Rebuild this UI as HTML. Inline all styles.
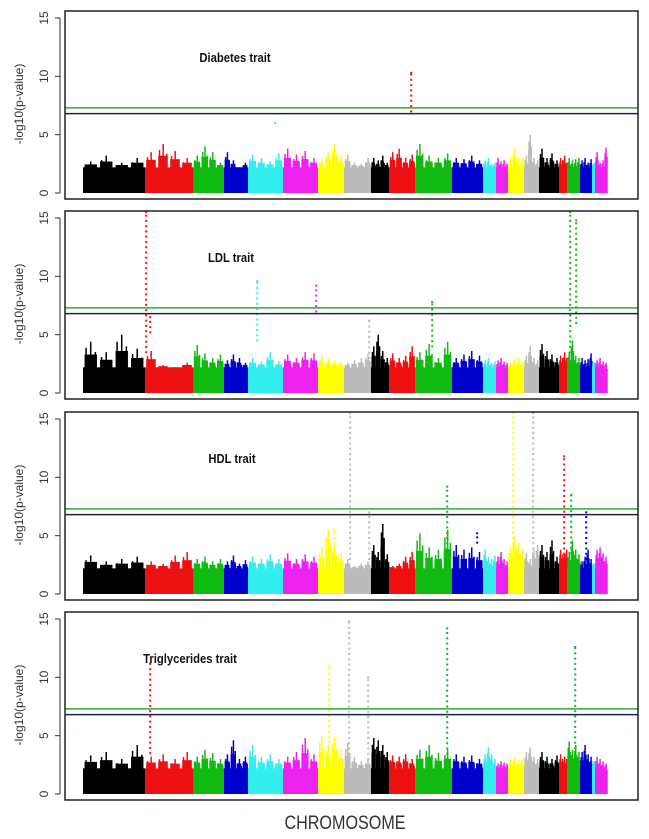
<!DOCTYPE html>
<html><head><meta charset="utf-8"><style>
html,body{margin:0;padding:0;background:#fff;}
svg{display:block;}
</style></head><body>
<svg id="chart" width="649" height="839" xmlns="http://www.w3.org/2000/svg" font-family="Liberation Sans, sans-serif"></svg>
<script>
// ---- data ----
const chromWidths = [62,48,31,24,35,35,26,27,18,26,37,31,13,12,16,15,20,8,13,12,3,12];
const chromColors = ["#000","#ee1111","#11bb11","#0000cc","#33eeee","#ee22ee","#ffff00","#bbbbbb","#000","#ee1111","#11bb11","#0000cc","#33eeee","#ee22ee","#ffff00","#bbbbbb","#000","#ee1111","#11bb11","#0000cc","#33eeee","#ee22ee"];
const traitTitles = ["Diabetes trait","LDL trait","HDL trait","Triglycerides trait"];
const yTicks = [0,5,10,15];
const greenLine = 7.3;
const blackLine = 6.8;
const profileDiabetes = [[2.7,3.2,2.6,3.0],[3.5,4.2,3.6,3.0],[3.2,4.0,3.5,2.6],[3.5,2.8,2.2,2.6],[3.3,3.0,2.7,3.4],[3.8,3.3,3.6,3.0],[3.0,3.5,4.2,3.2],[3.3,2.6,2.5,3.0],[3.0,2.8,3.2,2.6],[3.5,3.8,3.0,3.3],[4.2,3.2,3.0,3.4],[3.0,2.9,3.2,2.8],[2.8,3.0,2.5,2.6],[3.0,2.7,2.8,2.5],[3.0,3.8,3.0,3.0],[3.2,5.0,3.0,2.8],[3.8,3.0,3.4,2.8],[3.0,2.8,3.2,2.6],[3.0,2.8,2.9,3.0],[2.8,3.0,2.6,2.9],[2.5,2.4,2.6,2.5],[3.5,2.6,2.8,3.9]];
const profileLDL = [[4.4,3.5,5.0,3.8],[3.6,2.4,2.2,2.6],[4.1,3.4,3.0,3.3],[2.8,3.3,3.0,2.6],[3.0,2.7,3.5,2.7],[3.3,3.0,3.5,3.4],[3.2,3.0,2.8,2.7],[2.6,2.8,3.0,3.4],[4.0,5.0,3.6,3.0],[3.4,3.0,3.2,4.0],[3.5,4.2,3.0,4.4],[3.0,3.3,3.6,3.2],[2.8,3.0,2.6,2.7],[2.8,3.0,2.7,2.6],[2.6,2.9,3.0,2.7],[3.2,4.0,3.0,2.8],[4.2,3.6,3.3,3.0],[3.2,3.0,3.5,3.0],[3.5,4.5,3.2,3.0],[3.0,2.8,2.9,3.4],[2.6,2.6,2.6,2.6],[2.8,3.0,2.7,2.6]];
const profileHDL = [[3.3,2.8,3.0,3.2],[2.8,2.6,3.3,3.6],[3.0,3.2,2.8,3.0],[2.8,3.3,2.6,2.9],[3.2,3.0,3.4,3.0],[3.5,3.0,3.4,3.2],[4.0,5.5,4.2,3.5],[3.0,2.4,2.6,2.8],[4.2,3.6,6.0,3.4],[2.4,2.6,3.2,3.6],[5.2,4.0,3.8,5.5],[4.2,3.8,4.0,3.6],[3.8,3.2,3.0,3.3],[3.2,3.6,3.0,2.8],[4.0,5.0,4.4,3.8],[3.5,3.0,3.8,4.2],[4.2,3.6,4.6,3.2],[3.8,3.4,3.5,3.8],[3.6,4.6,3.8,3.4],[2.8,3.2,3.8,3.0],[2.6,2.6,2.6,2.6],[3.8,4.0,3.5,3.2]];
const profileTG = [[3.3,3.6,3.0,4.2],[3.2,3.4,3.0,3.6],[3.2,3.8,3.5,3.0],[3.4,4.6,3.0,3.2],[4.2,3.2,3.4,3.0],[3.2,3.6,4.8,3.4],[5.0,4.2,4.8,3.8],[4.4,3.2,2.8,3.0],[4.8,4.6,4.2,3.6],[3.3,3.2,3.4,3.0],[3.8,4.2,3.5,3.8],[3.4,3.2,3.3,3.0],[3.4,4.0,3.4,3.0],[2.6,2.8,2.7,2.6],[3.0,3.2,2.9,3.0],[3.6,4.0,3.2,3.0],[3.6,3.2,3.0,3.3],[3.4,3.0,3.2,3.0],[4.5,3.8,4.2,3.6],[3.6,4.2,3.4,3.2],[2.8,2.8,2.8,2.8],[3.2,3.0,2.8,2.6]];
// peaks: [position, max -log10p, min -log10p]
const peaksDiabetes = [[328,10.3,7.0],[192,6.0,6.0]];
const peaksLDL = [[63,15.5,3.5],[67,6.5,5.2],[174,9.6,4.5],[233,9.2,7.0],[286,6.2,3.0],[349,7.8,4.0],[487,15.5,3.5],[493,14.8,6.0]];
const peaksHDL = [[267,15.5,3.0],[286,7.0,3.0],[364,9.2,3.0],[394,5.2,4.4],[430,15.5,3.0],[450,15.5,3.0],[481,11.8,3.0],[488,8.5,3.5],[503,7.0,3.0],[251,5.5,3.0]];
const peaksTG = [[67,11.2,3.5],[246,11.0,4.0],[266,14.8,3.0],[285,10.0,3.0],[364,14.2,3.0],[492,12.6,3.5]];
const profiles = [profileDiabetes, profileLDL, profileHDL, profileTG];
const peaksAll = [peaksDiabetes, peaksLDL, peaksHDL, peaksTG];

// ---- layout ----
const NS = "http://www.w3.org/2000/svg";
const svg = document.getElementById("chart");
const panelTops = [11,211,412,612];
const boxL = 65, boxR = 638, boxH = 188;
const dataX0 = 83;
const baseVal = 2.2;
function mk(tag, attrs, parent){const e=document.createElementNS(NS,tag);for(const k in attrs)e.setAttribute(k,attrs[k]);(parent||svg).appendChild(e);return e;}
const chromStarts = [];
let acc = 0;
for (const w of chromWidths){chromStarts.push(acc);acc+=w;}
function xScale(p){return dataX0 + p;}
function chromOf(p){for(let i=chromStarts.length-1;i>=0;i--){if(p>=chromStarts[i])return i;}return 0;}

panelTops.forEach((top,pi)=>{
  const g = mk("g",{});
  
  
  const y = v => top + 182 - v*(175/15);
  chromWidths.forEach((w,ci)=>{
    const x0 = xScale(chromStarts[ci]);
    const col = chromColors[ci];
    const cg = mk("g",{fill:col},g);
    
    
    mk("rect",{x:x0,y:y(baseVal),width:w,height:y(0)-y(baseVal)},cg);
    const prof = profiles[pi][ci];
    const sw = w/prof.length;
    prof.forEach((v,si)=>{
      const sx = x0 + si*sw;
      const bh = baseVal + (v-baseVal)*0.5;
      mk("rect",{x:sx+sw*0.1,y:y(bh),width:sw*0.8,height:y(0)-y(bh)},cg);
      mk("rect",{x:sx+sw*0.45,y:y(v),width:1.5,height:y(0)-y(v)},cg);
      mk("rect",{x:sx+sw*0.15,y:y(v*0.88),width:1.5,height:y(0)-y(v*0.88)},cg);
      mk("rect",{x:sx+sw*0.75,y:y(v*0.8),width:1.5,height:y(0)-y(v*0.8)},cg);
    });
  });
  peaksAll[pi].forEach(pk=>{
    const col = chromColors[chromOf(pk[0])];
    const px = xScale(pk[0]);
    for(let v=pk[2]; v<=pk[1]+0.001; v+=0.45){
      const d = mk("rect",{x:px-0.8,y:y(v)-1,width:2,height:2,fill:col},g);
      
      
    }
    const t = mk("rect",{x:px-0.8,y:y(pk[1])-1,width:2,height:2,fill:col},g);
    
    
  });
  const gl = mk("line",{x1:boxL,x2:boxR,y1:y(greenLine),y2:y(greenLine),stroke:"#33aa33","stroke-width":1.5},g);
  
  
  const bl = mk("line",{x1:boxL,x2:boxR,y1:y(blackLine),y2:y(blackLine),stroke:"#222244","stroke-width":1.5},g);
  
  
  const bx = mk("rect",{x:boxL,y:top,width:boxR-boxL,height:boxH,fill:"none",stroke:"#222","stroke-width":1.5},g);
  
  
  const ax = mk("g",{},g);
  
  
  mk("line",{x1:60,x2:60,y1:y(0),y2:y(15),stroke:"#333"},ax);
  yTicks.forEach(t=>{
    mk("line",{x1:55,x2:60,y1:y(t),y2:y(t),stroke:"#333"},ax);
    const tl = mk("text",{x:0,y:0,transform:`translate(48,${y(t)}) rotate(-90)`,"text-anchor":"middle","font-size":12,fill:"#333"},ax);
    tl.textContent = t;
    
    
  });
  const yl = mk("text",{x:0,y:0,transform:`translate(23,${top+93}) rotate(-90)`,"text-anchor":"middle","font-size":12,fill:"#333"},g);
  yl.textContent = "-log10(p-value)";
  
  
  const tx = [235,231,232,190][pi];
  const tt = mk("text",{x:tx,y:top+51,"text-anchor":"middle","font-size":12.5,"font-weight":"bold",fill:"#111",transform:`translate(${tx*0.1},0) scale(0.9,1)`},g);
  tt.textContent = traitTitles[pi];
  
  
});
const xt = mk("text",{x:345/0.85,y:829,"text-anchor":"middle","font-size":19,fill:"#333",transform:"scale(0.85,1)"});
xt.textContent = "CHROMOSOME";


</script>
</body></html>
